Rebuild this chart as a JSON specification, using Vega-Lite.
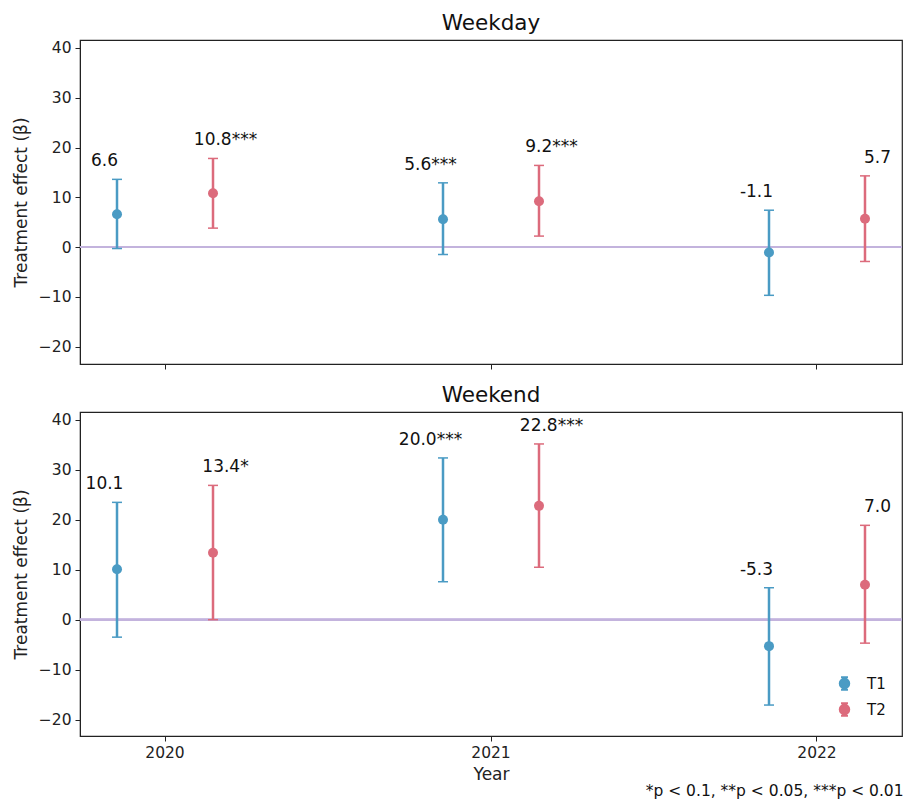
{
  "$schema": "https://vega.github.io/schema/vega-lite/v6.json",
  "background": "white",
  "padding": {"left": 11, "top": 11, "right": 3, "bottom": 6},
  "config": {
    "font": "DejaVu Sans",
    "view": {"stroke": "#222222", "strokeWidth": 1.2},
    "axis": {"domainColor": "#222222", "tickColor": "#222222", "labelColor": "#222222", "titleColor": "#222222", "labelFontSize": 15.5, "titleFontSize": 17, "titleFontWeight": "normal", "grid": false, "tickSize": 5, "labelPadding": 4},
    "axisY": {"titlePadding": 8},
    "title": {"fontSize": 21.5, "fontWeight": "normal", "color": "#111111"},
    "concat": {"spacing": 12}
  },
  "datasets": {
    "effects": [
      {"panel": "Weekday", "year": "2020", "group": "T1", "est": 6.6, "lo": -0.3, "hi": 13.6, "label": "6.6"},
      {"panel": "Weekday", "year": "2020", "group": "T2", "est": 10.8, "lo": 3.8, "hi": 17.8, "label": "10.8***"},
      {"panel": "Weekday", "year": "2021", "group": "T1", "est": 5.6, "lo": -1.5, "hi": 12.9, "label": "5.6***"},
      {"panel": "Weekday", "year": "2021", "group": "T2", "est": 9.2, "lo": 2.2, "hi": 16.4, "label": "9.2***"},
      {"panel": "Weekday", "year": "2022", "group": "T1", "est": -1.1, "lo": -9.7, "hi": 7.4, "label": "-1.1"},
      {"panel": "Weekday", "year": "2022", "group": "T2", "est": 5.7, "lo": -2.9, "hi": 14.3, "label": "5.7"},
      {"panel": "Weekend", "year": "2020", "group": "T1", "est": 10.1, "lo": -3.5, "hi": 23.5, "label": "10.1"},
      {"panel": "Weekend", "year": "2020", "group": "T2", "est": 13.4, "lo": 0.0, "hi": 26.9, "label": "13.4*"},
      {"panel": "Weekend", "year": "2021", "group": "T1", "est": 20.0, "lo": 7.6, "hi": 32.4, "label": "20.0***"},
      {"panel": "Weekend", "year": "2021", "group": "T2", "est": 22.8, "lo": 10.5, "hi": 35.2, "label": "22.8***"},
      {"panel": "Weekend", "year": "2022", "group": "T1", "est": -5.3, "lo": -17.1, "hi": 6.4, "label": "-5.3"},
      {"panel": "Weekend", "year": "2022", "group": "T2", "est": 7.0, "lo": -4.7, "hi": 18.9, "label": "7.0"}
    ]
  },
  "title": {"text": "*p < 0.1,  **p < 0.05,  ***p < 0.01", "orient": "bottom", "anchor": "end", "fontSize": 15.5, "offset": 1},
  "vconcat": [
    {
      "title": {"text": "Weekday", "offset": 6},
      "width": 822,
      "height": 324,
      "data": {"name": "effects"},
      "transform": [{"filter": "datum.panel === 'Weekday'"}],
      "encoding": {
        "x": {"field": "year", "type": "ordinal", "scale": {"type": "band", "paddingInner": 0.4785, "paddingOuter": 0}, "axis": {"labels": false, "title": null, "bandPosition": 0.5, "labelAngle": 0}},
        "xOffset": {"field": "group", "type": "nominal", "scale": {"domain": ["T1", "T2"], "paddingInner": 0.229, "paddingOuter": 0}}
      },
      "layer": [
        {"mark": {"type": "rule", "color": "#c3b3dd", "strokeWidth": 2}, "encoding": {"y": {"datum": 0, "type": "quantitative"}, "x": null, "xOffset": null}},
        {"mark": {"type": "rule", "strokeWidth": 2.5}, "encoding": {
          "y": {"field": "lo", "type": "quantitative", "scale": {"domain": [-23.5, 41.6], "nice": false, "zero": false}, "axis": {"title": "Treatment effect (β)", "values": [-20, -10, 0, 10, 20, 30, 40]}},
          "y2": {"field": "hi"},
          "color": {"field": "group", "type": "nominal", "scale": {"domain": ["T1", "T2"], "range": ["#4a9bc4", "#dc6b7c"]}, "legend": null}}},
        {"mark": {"type": "tick", "orient": "horizontal", "size": 10, "thickness": 1.5, "opacity": 1}, "encoding": {"y": {"field": "lo", "type": "quantitative"}, "color": {"field": "group", "type": "nominal", "legend": null}}},
        {"mark": {"type": "tick", "orient": "horizontal", "size": 10, "thickness": 1.5, "opacity": 1}, "encoding": {"y": {"field": "hi", "type": "quantitative"}, "color": {"field": "group", "type": "nominal", "legend": null}}},
        {"mark": {"type": "point", "filled": true, "size": 100, "opacity": 1}, "encoding": {"y": {"field": "est", "type": "quantitative"}, "color": {"field": "group", "type": "nominal", "legend": null}}},
        {"transform": [{"filter": "datum.group === 'T1'"}], "mark": {"type": "text", "fontSize": 17, "dx": -12.5, "dy": -13, "baseline": "alphabetic", "align": "center", "color": "#111111"}, "encoding": {"y": {"field": "hi", "type": "quantitative"}, "text": {"field": "label"}}},
        {"transform": [{"filter": "datum.group === 'T2'"}], "mark": {"type": "text", "fontSize": 17, "dx": 12.5, "dy": -13, "baseline": "alphabetic", "align": "center", "color": "#111111"}, "encoding": {"y": {"field": "hi", "type": "quantitative"}, "text": {"field": "label"}}}
      ]
    },
    {
      "title": {"text": "Weekend", "offset": 6},
      "width": 822,
      "height": 324,
      "data": {"name": "effects"},
      "transform": [{"filter": "datum.panel === 'Weekend'"}],
      "encoding": {
        "x": {"field": "year", "type": "ordinal", "scale": {"type": "band", "paddingInner": 0.4785, "paddingOuter": 0}, "axis": {"title": "Year", "bandPosition": 0.5, "labelAngle": 0, "titlePadding": 6}},
        "xOffset": {"field": "group", "type": "nominal", "scale": {"domain": ["T1", "T2"], "paddingInner": 0.229, "paddingOuter": 0}}
      },
      "layer": [
        {"mark": {"type": "rule", "color": "#c3b3dd", "strokeWidth": 2}, "encoding": {"y": {"datum": 0, "type": "quantitative"}, "x": null, "xOffset": null}},
        {"mark": {"type": "rule", "strokeWidth": 2.5}, "encoding": {
          "y": {"field": "lo", "type": "quantitative", "scale": {"domain": [-23.3, 41.6], "nice": false, "zero": false}, "axis": {"title": "Treatment effect (β)", "values": [-20, -10, 0, 10, 20, 30, 40]}},
          "y2": {"field": "hi"},
          "color": {"field": "group", "type": "nominal", "scale": {"domain": ["T1", "T2"], "range": ["#4a9bc4", "#dc6b7c"]}, "legend": null}}},
        {"mark": {"type": "tick", "orient": "horizontal", "size": 10, "thickness": 1.5, "opacity": 1}, "encoding": {"y": {"field": "lo", "type": "quantitative"}, "color": {"field": "group", "type": "nominal", "legend": null}}},
        {"mark": {"type": "tick", "orient": "horizontal", "size": 10, "thickness": 1.5, "opacity": 1}, "encoding": {"y": {"field": "hi", "type": "quantitative"}, "color": {"field": "group", "type": "nominal", "legend": null}}},
        {"mark": {"type": "point", "filled": true, "size": 100, "opacity": 1}, "encoding": {"y": {"field": "est", "type": "quantitative"}, "color": {"field": "group", "type": "nominal", "legend": null}}},
        {"mark": {"type": "point", "filled": true, "size": 160, "opacity": 0, "shape": "M-0.75,0A0.75,0.75,0,1,1,0.75,0A0.75,0.75,0,1,1,-0.75,0Z M0,-1L0,1 M-0.55,-1L0.55,-1 M-0.55,1L0.55,1", "strokeWidth": 2}, "encoding": {"y": {"field": "est", "type": "quantitative"}, "color": {"field": "group", "type": "nominal", "legend": {"title": null, "orient": "bottom-right", "offset": 16, "labelFontSize": 15, "labelColor": "#111111", "symbolSize": 160, "symbolStrokeWidth": 2, "symbolOpacity": 1, "rowPadding": 5, "labelOffset": 15,
          "encode": {"symbols": {"update": {"opacity": {"value": 1}, "fillOpacity": {"value": 1}, "strokeOpacity": {"value": 1}, "stroke": {"scale": "color", "field": "value"}, "strokeWidth": {"value": 2}}}}}}}},
        {"transform": [{"filter": "datum.group === 'T1'"}], "mark": {"type": "text", "fontSize": 17, "dx": -12.5, "dy": -13, "baseline": "alphabetic", "align": "center", "color": "#111111"}, "encoding": {"y": {"field": "hi", "type": "quantitative"}, "text": {"field": "label"}}},
        {"transform": [{"filter": "datum.group === 'T2'"}], "mark": {"type": "text", "fontSize": 17, "dx": 12.5, "dy": -13, "baseline": "alphabetic", "align": "center", "color": "#111111"}, "encoding": {"y": {"field": "hi", "type": "quantitative"}, "text": {"field": "label"}}}
      ],
      "resolve": {"legend": {"color": "independent"}}
    }
  ],
  "resolve": {"scale": {"y": "independent"}, "legend": {"color": "independent"}}
}
